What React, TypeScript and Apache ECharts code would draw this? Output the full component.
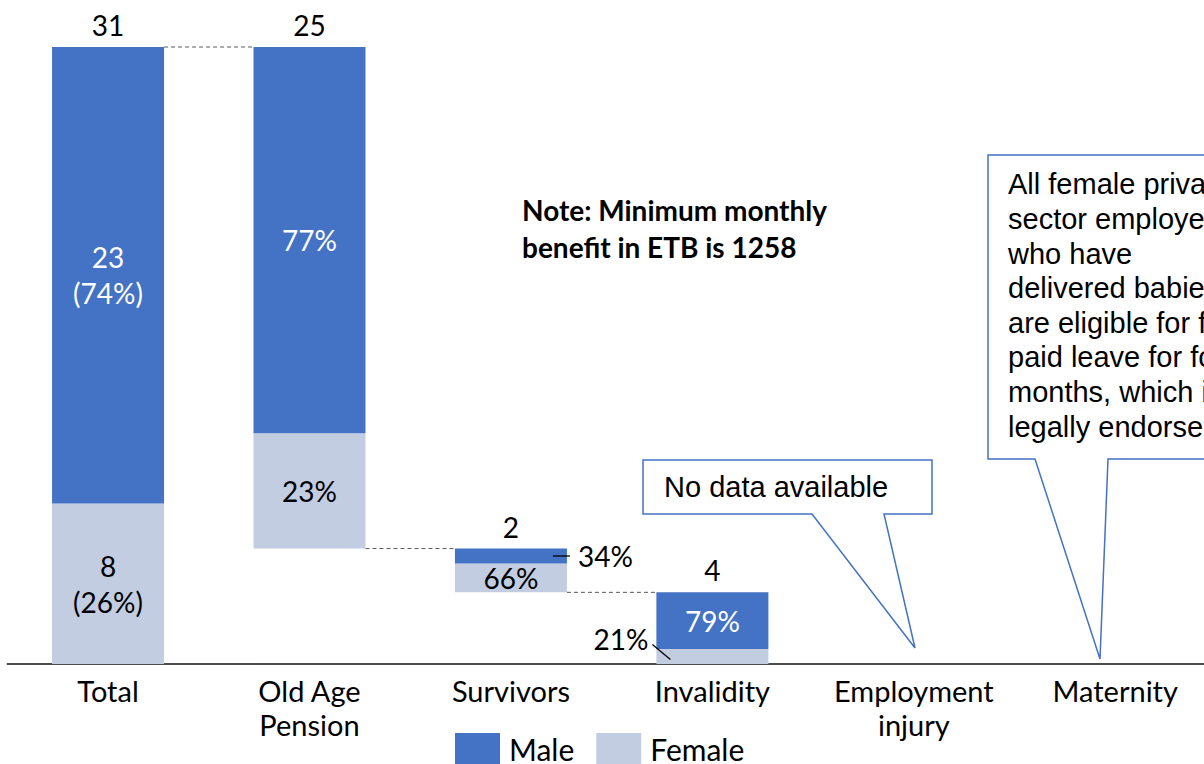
import React, { useEffect, useRef } from "react";
import * as echarts from "echarts";

const categories = ["Total", "Old Age\nPension", "Survivors", "Invalidity", "Employment\ninjury", "Maternity"];
const totals: (number | null)[] = [31, 25.2, 2.2, 3.6, null, null];
const malePct: (number | null)[] = [74, 77, 34, 79, null, null];
const femalePct: (number | null)[] = [26, 23, 66, 21, null, null];
const legendNames = ["Male", "Female"];
const noteText = "Note: Minimum monthly\nbenefit in ETB is 1258";
const calloutText1 = "No data available";
const calloutText2 =
  "All female private\nsector employees\nwho have\ndelivered babies\nare eligible for fully\npaid leave for four\nmonths, which is\nlegally endorsed";

const MALE = "#4472C4";
const FEMALE = "#C3CDE1";
const FONT = "Lato, 'Noto Sans', sans-serif";
const ARIAL = "'Liberation Sans', Arial, sans-serif";
const BAR_W = 112;

export default function App() {
  const ref = useRef<HTMLDivElement>(null);
  useEffect(() => {
    if (!ref.current) return;
    const chart = echarts.init(ref.current, undefined, { renderer: "svg" });

    // waterfall bases
    const base: (number | null)[] = [];
    let running = 0;
    totals.forEach((t, i) => {
      if (t == null) { base.push(null); return; }
      if (i === 0) { base.push(0); running = t; return; }
      running = Math.max(0, +(running - t).toFixed(9));
      base.push(running);
    });
    const male = totals.map((t, i) => (t == null ? null : (t * (malePct[i] as number)) / 100));
    const female = totals.map((t, i) => (t == null ? null : (t * (femalePct[i] as number)) / 100));

    const maleData = male.map((v, i) => {
      if (v == null) return "-";
      const item: any = { value: v };
      if (i === 2) {
        item.label = { position: "right", distance: 11, color: "#000" };
      }
      return item;
    });
    const femaleData = female.map((v, i) => {
      if (v == null) return "-";
      const item: any = { value: v };
      if (i === 3) {
        item.label = { position: "left", distance: 8, offset: [0, -17] };
      }
      return item;
    });

    const option: any = {
      animation: false,
      backgroundColor: "#fff",
      grid: { left: 7.33, top: 47, right: 0, height: 617, containLabel: false },
      legend: {
        data: legendNames,
        left: 455,
        top: 733,
        padding: 0,
        itemWidth: 45,
        itemHeight: 31,
        itemGap: 22,
        icon: "rect",
        textStyle: { fontFamily: FONT, fontSize: 30, color: "#000", padding: [0, 0, 0, 4] },
      },
      xAxis: {
        type: "category",
        data: categories,
        axisLine: { show: true, lineStyle: { color: "#111", width: 1.5 } },
        axisTick: { show: false },
        axisLabel: { interval: 0, fontFamily: FONT, fontSize: 29, lineHeight: 34, color: "#000", margin: 9 },
      },
      yAxis: { type: "value", min: 0, max: 31, show: false, splitLine: { show: false } },
      series: [
        {
          name: "base",
          type: "bar",
          stack: "w",
          barWidth: BAR_W,
          silent: true,
          itemStyle: { color: "transparent" },
          data: base.map((b) => (b == null ? "-" : b)),
        },
        {
          name: "Female",
          type: "bar",
          stack: "w",
          barWidth: BAR_W,
          itemStyle: { color: FEMALE },
          label: {
            show: true,
            position: "inside",
            fontFamily: FONT,
            fontSize: 28,
            lineHeight: 36,
            color: "#000",
            formatter: (p: any) =>
              p.dataIndex === 0
                ? `${Math.round(p.value)}\n(${femalePct[0]}%)`
                : `${femalePct[p.dataIndex]}%`,
          },
          data: femaleData,
        },
        {
          name: "Male",
          type: "bar",
          stack: "w",
          barWidth: BAR_W,
          itemStyle: { color: MALE },
          label: {
            show: true,
            position: "inside",
            fontFamily: FONT,
            fontSize: 28,
            lineHeight: 36,
            color: "#fff",
            formatter: (p: any) =>
              p.dataIndex === 0
                ? `${Math.round(p.value)}\n(${malePct[0]}%)`
                : `${malePct[p.dataIndex]}%`,
          },
          data: maleData,
        },
        {
          name: "totalLabel",
          type: "bar",
          stack: "w",
          barWidth: BAR_W,
          silent: true,
          itemStyle: { color: "transparent" },
          label: {
            show: true,
            position: "top",
            distance: 8,
            fontFamily: FONT,
            fontSize: 28,
            color: "#000",
            formatter: (p: any) => `${Math.round(totals[p.dataIndex] as number)}`,
          },
          data: totals.map((t) => (t == null ? "-" : 0)),
        },
      ],
    };
    chart.setOption(option);

    const px = (i: number, v: number) => chart.convertToPixel({ xAxisIndex: 0, yAxisIndex: 0 }, [i, v]) as number[];
    const els: any[] = [];
    // dashed connectors
    for (let i = 0; i < totals.length - 1; i++) {
      const t1 = totals[i + 1];
      if (totals[i] == null || t1 == null) continue;
      const level = (base[i + 1] as number) + t1;
      const a = px(i, level);
      const b = px(i + 1, level);
      els.push({
        type: "line",
        shape: { x1: a[0] + BAR_W / 2, y1: a[1], x2: b[0] - BAR_W / 2, y2: b[1] },
        style: { stroke: "#595959", lineWidth: 1, lineDash: [4, 3] },
        z: 10,
      });
    }
    // leader line: survivors male
    {
      const v = (base[2] as number) + (female[2] as number) + (male[2] as number) / 2;
      const p = px(2, v);
      const right = p[0] + BAR_W / 2;
      els.push({
        type: "line",
        shape: { x1: right - 14, y1: p[1], x2: right + 3, y2: p[1] },
        style: { stroke: "#000", lineWidth: 1.3 },
        z: 10,
      });
    }
    // leader line: invalidity female
    {
      const v = (base[3] as number) + (female[3] as number) / 2;
      const p = px(3, v);
      const left = p[0] - BAR_W / 2;
      els.push({
        type: "line",
        shape: { x1: left - 4, y1: p[1] - 12, x2: left + 14, y2: p[1] + 3 },
        style: { stroke: "#000", lineWidth: 1.3 },
        z: 10,
      });
    }
    // note
    els.push({
      type: "text",
      x: 522,
      y: 191,
      style: {
        text: noteText,
        font: `bold 28px ${FONT}`,
        lineHeight: 37,
        fill: "#000",
        verticalAlign: "top",
      },
      z: 10,
    });
    // callout 1
    els.push({
      type: "polygon",
      shape: {
        points: [
          [643, 460], [932, 460], [932, 514], [884, 514], [915, 648], [812, 514], [643, 514],
        ],
      },
      style: { fill: "#fff", stroke: MALE, lineWidth: 1.5 },
      z: 20,
    });
    els.push({
      type: "text",
      x: 664,
      y: 487,
      style: { text: calloutText1, font: `29px ${ARIAL}`, fill: "#000", verticalAlign: "middle" },
      z: 21,
    });
    // callout 2
    els.push({
      type: "polygon",
      shape: {
        points: [
          [988, 155], [1240, 155], [1240, 459], [1108, 459], [1100, 659], [1035, 459], [988, 459],
        ],
      },
      style: { fill: "#fff", stroke: MALE, lineWidth: 1.5 },
      z: 20,
    });
    els.push({
      type: "text",
      x: 1008,
      y: 167,
      style: {
        text: calloutText2,
        font: `29px ${ARIAL}`,
        lineHeight: 34.6,
        fill: "#000",
        verticalAlign: "top",
      },
      z: 21,
    });
    chart.setOption({ graphic: { elements: els } });

    return () => chart.dispose();
  }, []);
  return (
    <div style={{ position: "fixed", left: 0, top: 0, width: 1204, height: 764, overflow: "hidden", background: "#fff" }}>
      <div ref={ref} style={{ width: 1216, height: 764 }} />
    </div>
  );
}
